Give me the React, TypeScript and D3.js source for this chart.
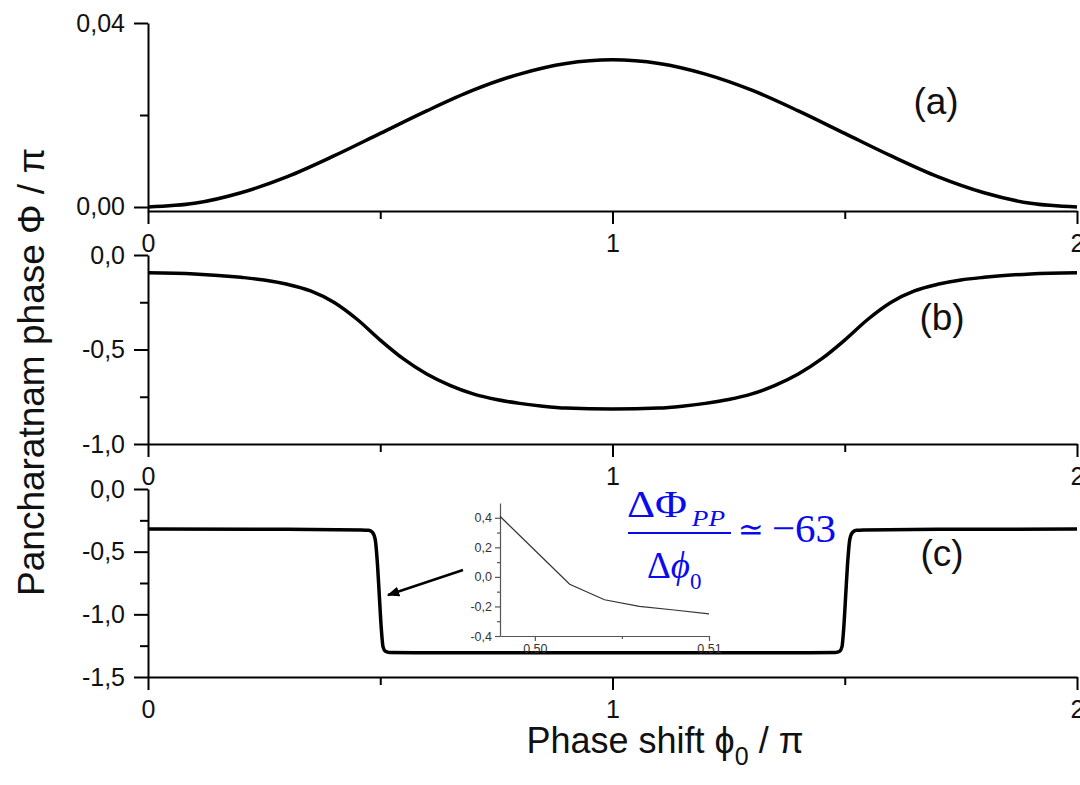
import { useEffect, useRef } from 'react';
import * as d3 from 'd3';

// panel (a)
const shiftA = [0, 0.1, 0.2, 0.3, 0.4, 0.5, 0.6, 0.7, 0.8, 0.9, 1.0, 1.1, 1.2, 1.3, 1.4, 1.5, 1.6, 1.7, 1.8, 1.9, 2.0];
const phaseA = [0, 0.0008, 0.0031, 0.0066, 0.0111, 0.016, 0.0209, 0.0254, 0.0289, 0.0312, 0.032, 0.0312, 0.0289, 0.0254, 0.0209, 0.016, 0.0111, 0.0066, 0.0031, 0.0008, 0];

// panel (b)
const shiftB = [0, 0.1, 0.2, 0.25, 0.3, 0.35, 0.4, 0.45, 0.5, 0.55, 0.6, 0.65, 0.7, 0.75, 0.8, 0.85, 0.9, 1.0,
    1.1, 1.15, 1.2, 1.25, 1.3, 1.35, 1.4, 1.45, 1.5, 1.55, 1.6, 1.65, 1.7, 1.75, 1.8, 1.9, 2.0];
const phaseB = [-0.094, -0.1, -0.118, -0.132, -0.155, -0.19, -0.25, -0.34, -0.45, -0.55, -0.63, -0.69, -0.735, -0.765, -0.785, -0.8, -0.81, -0.815,
    -0.81, -0.8, -0.785, -0.765, -0.735, -0.69, -0.63, -0.55, -0.45, -0.34, -0.25, -0.19, -0.155, -0.132, -0.118, -0.1, -0.094];

// panel (c)
const shiftC = [0, 0.3, 0.46, 0.475, 0.483, 0.489, 0.494, 0.498, 0.502, 0.506, 0.511, 0.52, 0.6, 1.0,
    1.4, 1.48, 1.489, 1.494, 1.498, 1.502, 1.506, 1.511, 1.517, 1.525, 1.54, 1.7, 2.0];
const phaseC = [-0.32, -0.322, -0.327, -0.33, -0.345, -0.4, -0.6, -0.85, -1.1, -1.26, -1.295, -1.305, -1.307, -1.307,
    -1.307, -1.305, -1.295, -1.26, -1.1, -0.85, -0.6, -0.4, -0.345, -0.33, -0.327, -0.322, -0.32];

// inset (zoom of the step)
const insetShift = [0.498, 0.5, 0.502, 0.504, 0.506, 0.508, 0.51];
const insetPhase = [0.41, 0.18, -0.05, -0.155, -0.2, -0.224, -0.25];

const xMajor = [0, 1, 2];
const xMinor = [0.5, 1.5];
const yTicksA = [0, 0.04];
const yMinorA = [0.02];
const yTicksB = [0, -0.5, -1];
const yMinorB = [-0.25, -0.75];
const yTicksC = [0, -0.5, -1, -1.5];
const yMinorC = [-0.25, -0.75, -1.25];
const insetYTicks = [0.4, 0.2, 0, -0.2, -0.4];
const insetYMinor = [0.3, 0.1, -0.1, -0.3];
const insetXTicks = [0.5, 0.51];
const insetXMinor = [0.505];
const panelLabels = ['(a)', '(b)', '(c)'];

const sans = 'Liberation Sans, Arial, sans-serif';
const serif = 'Liberation Serif, Times New Roman, serif';
const blue = '#0a0aee';

const loc = d3.formatLocale({decimal: ',', thousands: '.', grouping: [3], currency: ['', ''], minus: '-'});

export default function App() {
    const ref = useRef(null);

    useEffect(() => {
        const width = 1080;
        const height = 785;
        const svg = d3.select(ref.current);
        svg.selectAll('*').remove();
        svg.attr('viewBox', `0 0 ${width} ${height}`);
        svg.append('rect').attr('width', width).attr('height', height).attr('fill', '#fff');

        const x = d3.scaleLinear().domain([0, 2]).range([148, 1077]);

        const panels = [
            {xs: shiftA, ys: phaseA, y: d3.scaleLinear().domain([-0.00087, 0.04]).range([211, 23]), major: yTicksA, minor: yMinorA, fmt: loc.format('.2f'), label: [936, 114]},
            {xs: shiftB, ys: phaseB, y: d3.scaleLinear().domain([-1, 0]).range([444, 255]), major: yTicksB, minor: yMinorB, fmt: loc.format('.1f'), label: [942, 330]},
            {xs: shiftC, ys: phaseC, y: d3.scaleLinear().domain([-1.5, 0]).range([677, 489]), major: yTicksC, minor: yMinorC, fmt: loc.format('.1f'), label: [942, 566]},
        ];

        const styleAxis = (g, size, w) => {
            g.selectAll('path').attr('stroke', '#000').attr('stroke-width', w);
            g.selectAll('line').attr('stroke', '#000').attr('stroke-width', w);
            g.selectAll('text').attr('fill', '#111').attr('font-size', size).attr('font-family', sans);
        };

        panels.forEach((p, i) => {
            const y0 = p.y.range()[0];

            // x axis
            const gx = svg.append('g').attr('transform', `translate(0,${y0})`)
                .call(d3.axisBottom(x).tickValues(xMajor).tickSize(13).tickSizeOuter(0).tickPadding(10).tickFormat(d3.format('d')));
            styleAxis(gx, 25, 2);
            const gxm = svg.append('g').attr('transform', `translate(0,${y0})`)
                .call(d3.axisBottom(x).tickValues(xMinor).tickSize(8).tickFormat(() => ''));
            gxm.select('.domain').remove();
            styleAxis(gxm, 25, 2);

            // y axis
            const gy = svg.append('g').attr('transform', `translate(${x(0)},0)`)
                .call(d3.axisLeft(p.y).tickValues(p.major).tickSize(14).tickSizeOuter(0).tickPadding(9).tickFormat(p.fmt));
            styleAxis(gy, 25, 2);
            const gym = svg.append('g').attr('transform', `translate(${x(0)},0)`)
                .call(d3.axisLeft(p.y).tickValues(p.minor).tickSize(8).tickFormat(() => ''));
            gym.select('.domain').remove();
            styleAxis(gym, 25, 2);

            const line = d3.line()
                .x((d) => x(d[0]))
                .y((d) => p.y(d[1]))
                .curve(d3.curveMonotoneX);
            svg.append('path')
                .datum(p.xs.map((v, k) => [v, p.ys[k]]))
                .attr('d', line)
                .attr('fill', 'none')
                .attr('stroke', '#000')
                .attr('stroke-width', 3.5)
                .attr('stroke-linejoin', 'round');

            svg.append('text')
                .attr('x', p.label[0])
                .attr('y', p.label[1])
                .attr('text-anchor', 'middle')
                .attr('font-family', sans)
                .attr('font-size', 37)
                .attr('fill', '#111')
                .text(panelLabels[i]);
        });

        // inset
        const ix = d3.scaleLinear().domain([0.498, 0.51]).range([500, 709]);
        const iy = d3.scaleLinear().domain([-0.4, 0.5]).range([636, 503]);
        const grey = '#555';
        const styleInset = (g) => {
            g.selectAll('path').attr('stroke', grey).attr('stroke-width', 1.2);
            g.selectAll('line').attr('stroke', grey).attr('stroke-width', 1.2);
            g.selectAll('text').attr('fill', '#333').attr('font-size', 12.5).attr('font-family', sans);
        };
        const igx = svg.append('g').attr('transform', `translate(0,${iy(-0.4)})`)
            .call(d3.axisBottom(ix).tickValues(insetXTicks).tickSize(5).tickSizeOuter(0).tickPadding(3).tickFormat(loc.format('.2f')));
        styleInset(igx);
        const igxm = svg.append('g').attr('transform', `translate(0,${iy(-0.4)})`)
            .call(d3.axisBottom(ix).tickValues(insetXMinor).tickSize(3).tickFormat(() => ''));
        igxm.select('.domain').remove();
        styleInset(igxm);
        const igy = svg.append('g').attr('transform', `translate(${ix(0.498)},0)`)
            .call(d3.axisLeft(iy).tickValues(insetYTicks).tickSize(5).tickSizeOuter(0).tickPadding(3).tickFormat(loc.format('.1f')));
        styleInset(igy);
        const igym = svg.append('g').attr('transform', `translate(${ix(0.498)},0)`)
            .call(d3.axisLeft(iy).tickValues(insetYMinor).tickSize(3).tickFormat(() => ''));
        igym.select('.domain').remove();
        styleInset(igym);

        svg.append('path')
            .datum(insetShift.map((v, k) => [v, insetPhase[k]]))
            .attr('d', d3.line().x((d) => ix(d[0])).y((d) => iy(d[1])))
            .attr('fill', 'none')
            .attr('stroke', '#333')
            .attr('stroke-width', 1.2);

        // arrow from inset to the step
        const defs = svg.append('defs');
        defs.append('marker')
            .attr('id', 'arrowhead')
            .attr('viewBox', '0 0 10 10')
            .attr('refX', 9)
            .attr('refY', 5)
            .attr('markerWidth', 5)
            .attr('markerHeight', 5)
            .attr('orient', 'auto')
            .append('path')
            .attr('d', 'M0,1 L10,5 L0,9 z')
            .attr('fill', '#000');
        svg.append('line')
            .attr('x1', 463).attr('y1', 570)
            .attr('x2', 388).attr('y2', 595)
            .attr('stroke', '#000')
            .attr('stroke-width', 2.5)
            .attr('marker-end', 'url(#arrowhead)');

        // formula
        const num = svg.append('text')
            .attr('x', 627).attr('y', 517)
            .attr('font-family', serif).attr('font-size', 37).attr('fill', blue)
            .attr('textLength', 98).attr('lengthAdjust', 'spacingAndGlyphs');
        num.append('tspan').text('ΔΦ');
        num.append('tspan').attr('font-size', 23).attr('font-style', 'italic').attr('dx', 4).attr('dy', 9).text('PP');
        svg.append('line')
            .attr('x1', 628).attr('x2', 731)
            .attr('y1', 533).attr('y2', 533)
            .attr('stroke', blue).attr('stroke-width', 2);
        const den = svg.append('text')
            .attr('x', 647).attr('y', 578)
            .attr('font-family', serif).attr('font-size', 37).attr('fill', blue);
        den.append('tspan').text('Δ');
        den.append('tspan').attr('font-style', 'italic').text('ϕ');
        den.append('tspan').attr('font-size', 23).attr('dy', 11).text('0');
        svg.append('text')
            .attr('x', 738).attr('y', 540)
            .attr('font-family', 'DejaVu Serif, serif').attr('font-size', 31).attr('fill', blue)
            .text('≃');
        svg.append('text')
            .attr('x', 772).attr('y', 542)
            .attr('font-family', serif).attr('font-size', 41).attr('fill', blue)
            .text('−63');

        // axis titles
        const xt = svg.append('text')
            .attr('x', 665).attr('y', 753)
            .attr('text-anchor', 'middle')
            .attr('font-family', sans).attr('font-size', 36).attr('fill', '#111');
        xt.append('tspan').text('Phase shift ϕ');
        xt.append('tspan').attr('font-size', 25).attr('dy', 12).text('0');
        xt.append('tspan').attr('dy', -12).text(' / π');

        svg.append('text')
            .attr('transform', 'translate(44,372) rotate(-90)')
            .attr('text-anchor', 'middle')
            .attr('font-family', sans).attr('font-size', 37).attr('fill', '#111')
            .text('Pancharatnam phase Φ / π');
    }, []);

    return <svg ref={ref} width={1080} height={785} style={{position: 'absolute', left: 0, top: 0, display: 'block'}}></svg>;
}
